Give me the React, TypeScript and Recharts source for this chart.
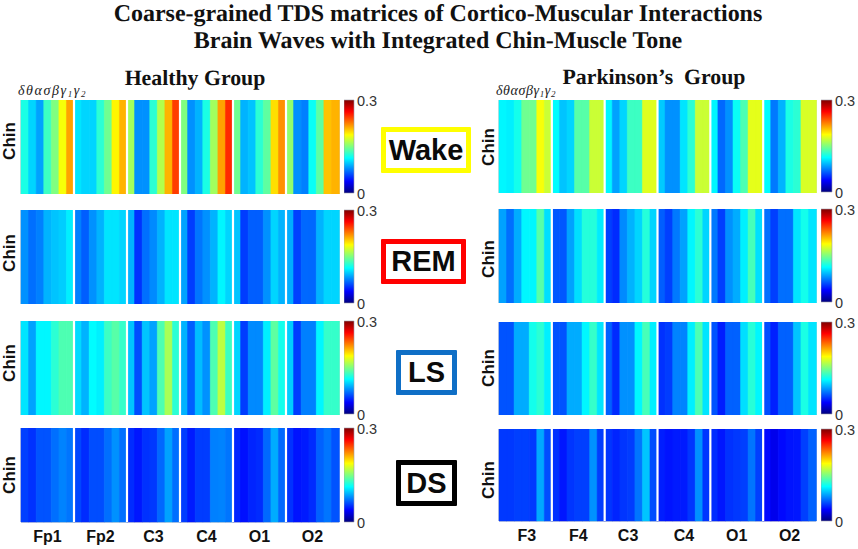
import React from "react";
import { ComposedChart, Bar, Cell, XAxis, YAxis, ReferenceLine, ReferenceArea } from "recharts";

const healthyChannels = ["Fp1", "Fp2", "C3", "C4", "O1", "O2"];
const parkinsonChannels = ["F3", "F4", "C3", "C4", "O1", "O2"];
const healthyTicks = [3.5, 10.5, 17.5, 24.5, 31.5, 38.5];
const parkinsonTicks = [3.7, 10.5, 17.1, 24.5, 31.5, 38.5];

const healthyWake = [
  0.12, 0.1, 0.085, 0.13, 0.15, 0.185, 0.215,
  0.105, 0.1, 0.1, 0.125, 0.145, 0.19, 0.21,
  0.16, 0.08, 0.08, 0.125, 0.165, 0.21, 0.245,
  0.15, 0.08, 0.09, 0.12, 0.16, 0.215, 0.25,
  0.145, 0.09, 0.095, 0.125, 0.14, 0.197, 0.22,
  0.155, 0.08, 0.075, 0.115, 0.14, 0.205, 0.21,
];
const healthyRem = [
  0.08, 0.07, 0.075, 0.09, 0.095, 0.098, 0.108,
  0.075, 0.065, 0.08, 0.09, 0.105, 0.105, 0.1,
  0.09, 0.052, 0.07, 0.078, 0.09, 0.105, 0.105,
  0.085, 0.055, 0.072, 0.08, 0.09, 0.11, 0.1,
  0.095, 0.055, 0.065, 0.065, 0.08, 0.1, 0.09,
  0.088, 0.056, 0.068, 0.068, 0.09, 0.1, 0.1,
];
const healthyLs = [
  0.105, 0.085, 0.11, 0.11, 0.125, 0.135, 0.135,
  0.102, 0.09, 0.112, 0.108, 0.13, 0.138, 0.128,
  0.095, 0.06, 0.095, 0.085, 0.135, 0.162, 0.125,
  0.09, 0.065, 0.093, 0.08, 0.135, 0.168, 0.13,
  0.1, 0.055, 0.078, 0.078, 0.108, 0.14, 0.118,
  0.098, 0.055, 0.075, 0.075, 0.11, 0.128, 0.128,
];
const healthyDs = [
  0.056, 0.052, 0.062, 0.062, 0.07, 0.076, 0.072,
  0.058, 0.05, 0.06, 0.06, 0.07, 0.08, 0.07,
  0.05, 0.044, 0.052, 0.054, 0.068, 0.085, 0.07,
  0.055, 0.045, 0.055, 0.055, 0.075, 0.076, 0.072,
  0.048, 0.042, 0.048, 0.05, 0.068, 0.088, 0.068,
  0.052, 0.043, 0.045, 0.05, 0.066, 0.072, 0.062,
];
const parkinsonWake = [
  0.11, 0.108, 0.118, 0.145, 0.145, 0.185, 0.172,
  0.112, 0.095, 0.1, 0.138, 0.138, 0.172, 0.172,
  0.11, 0.085, 0.1, 0.13, 0.13, 0.178, 0.178,
  0.097, 0.08, 0.08, 0.105, 0.125, 0.172, 0.172,
  0.11, 0.068, 0.08, 0.115, 0.135, 0.18, 0.18,
  0.112, 0.073, 0.09, 0.12, 0.125, 0.176, 0.176,
];
const parkinsonRem = [
  0.085, 0.07, 0.088, 0.11, 0.11, 0.138, 0.103,
  0.063, 0.063, 0.085, 0.103, 0.123, 0.123, 0.107,
  0.056, 0.05, 0.078, 0.09, 0.1, 0.123, 0.1,
  0.065, 0.056, 0.073, 0.085, 0.11, 0.125, 0.1,
  0.073, 0.056, 0.08, 0.088, 0.108, 0.133, 0.103,
  0.07, 0.056, 0.07, 0.07, 0.105, 0.118, 0.105,
];
const parkinsonLs = [
  0.062, 0.062, 0.088, 0.088, 0.118, 0.125, 0.108,
  0.062, 0.062, 0.088, 0.088, 0.11, 0.128, 0.105,
  0.066, 0.05, 0.08, 0.08, 0.11, 0.133, 0.108,
  0.052, 0.055, 0.076, 0.076, 0.108, 0.135, 0.105,
  0.062, 0.046, 0.066, 0.066, 0.103, 0.124, 0.11,
  0.06, 0.047, 0.066, 0.066, 0.095, 0.12, 0.105,
];
const parkinsonDs = [
  0.054, 0.054, 0.056, 0.056, 0.054, 0.087, 0.06,
  0.052, 0.044, 0.053, 0.056, 0.056, 0.08, 0.055,
  0.053, 0.048, 0.053, 0.055, 0.072, 0.095, 0.06,
  0.046, 0.043, 0.045, 0.045, 0.053, 0.08, 0.053,
  0.05, 0.044, 0.052, 0.054, 0.056, 0.072, 0.056,
  0.04, 0.032, 0.04, 0.043, 0.044, 0.056, 0.066,
];

const channelBoundaries = [7, 14, 21, 28, 35];
const jetStops = ["#00007f", "#0000ff", "#007fff", "#00ffff", "#7fff7f", "#ffff00", "#ff7f00", "#ff0000", "#7f0000"];

const SANS = "'Liberation Sans', Arial, sans-serif";
const SERIF = "'Liberation Serif', 'Times New Roman', serif";

function jet(v: number): string {
  const t = Math.max(0, Math.min(1, v / 0.3));
  const part = (c: number) => Math.round(255 * Math.max(0, Math.min(1, 1.5 - Math.abs(4 * t - c))));
  return `rgb(${part(3)},${part(2)},${part(1)})`;
}

function Heatmap({ values, left, top, width, height, labelTicks, labels }: any) {
  const data = values.map((v: number, i: number) => ({ cell: i, tds: v, span: 1 }));
  const hasLabels = !!labels;
  const chartH = height + (hasLabels ? 27 : 1);
  return (
    <div style={{ position: "absolute", left: left - 1, top, width: width + 2 }}>
      <ComposedChart
        width={width + 2}
        height={chartH}
        data={data}
        barCategoryGap={0}
        margin={{ top: 0, right: 1, bottom: 0, left: 1 }}
      >
        <XAxis xAxisId="cells" dataKey="cell" hide height={0} />
        <XAxis
          xAxisId="grid"
          dataKey="cell"
          type="number"
          domain={[0, 42]}
          allowDataOverflow
          hide={!hasLabels}
          ticks={labelTicks}
          interval={0}
          height={hasLabels ? 27 : 0}
          tickFormatter={(_: number, i: number) => (labels ? labels[i] : "")}
          axisLine={false}
          tickLine={false}
          tickSize={0}
          tickMargin={9}
          tick={{ fontFamily: SANS, fontWeight: 700, fontSize: 16, fill: "#111" }}
        />
        <YAxis domain={[0, 1]} hide width={0} />
        <Bar xAxisId="cells" dataKey="span" isAnimationActive={false}>
          {data.map((d: any) => (
            <Cell key={d.cell} fill={jet(d.tds)} stroke={jet(d.tds)} strokeWidth={0.5} />
          ))}
        </Bar>
        {channelBoundaries.map((b) => (
          <ReferenceLine key={b} xAxisId="grid" x={b} stroke="#ffffff" strokeWidth={2.2} />
        ))}
        <ReferenceArea xAxisId="grid" x1={0} x2={42} y1={0} y2={1} fill="none" stroke="#b4b4b4" strokeWidth={1} ifOverflow="visible" />
      </ComposedChart>
    </div>
  );
}

const scaleData = [{ name: "TDS", max: 0.3 }];

function ColorBar({ id, left, top, width, height }: any) {
  return (
    <div style={{ position: "absolute", left, top: top - 12 }}>
      <ComposedChart
        width={width + 26}
        height={height + 24}
        data={scaleData}
        barCategoryGap={0}
        margin={{ top: 12, right: 0, bottom: 12, left: 0 }}
      >
        <defs>
          <linearGradient id={id} x1="0" y1="1" x2="0" y2="0">
            {jetStops.map((c, i) => (
              <stop key={i} offset={`${(i / (jetStops.length - 1)) * 100}%`} stopColor={c} />
            ))}
          </linearGradient>
        </defs>
        <XAxis dataKey="name" hide height={0} />
        <YAxis
          orientation="right"
          domain={[0, 0.3]}
          ticks={[0, 0.3]}
          width={26}
          interval={0}
          axisLine={false}
          tickLine={false}
          tickSize={0}
          tickMargin={3}
          tick={{ fontFamily: SANS, fontSize: 14.5, fill: "#333", dy: 1 }}
        />
        <Bar dataKey="max" fill={`url(#${id})`} stroke="#9a9aa8" strokeWidth={0.6} isAnimationActive={false} />
      </ComposedChart>
    </div>
  );
}

const rowTops = {
  left: [100, 210, 321, 428],
  right: [100, 209, 322, 429],
};
const rowHeights = {
  left: [93, 93, 93, 94],
  right: [92, 93, 92, 92],
};
const chinCenters = {
  left: [141, 253, 363, 475],
  right: [147, 259, 368, 480],
};
const healthyRows = [healthyWake, healthyRem, healthyLs, healthyDs];
const parkinsonRows = [parkinsonWake, parkinsonRem, parkinsonLs, parkinsonDs];

const stages = [
  { label: "Wake", color: "#ffff00", x: 381, y: 127, w: 90, h: 46, fs: 29 },
  { label: "REM", color: "#ff0000", x: 381, y: 239, w: 85, h: 45, fs: 29 },
  { label: "LS", color: "#0f6fc6", x: 396, y: 350, w: 61, h: 45, fs: 29 },
  { label: "DS", color: "#000000", x: 396, y: 460, w: 61, h: 46, fs: 29 },
];

function Abs({ x, y, w, style, children }: any) {
  return (
    <div style={{ position: "absolute", left: x, top: y, width: w, textAlign: "center", whiteSpace: "pre", ...style }}>
      {children}
    </div>
  );
}

function Chin({ cx, cy }: any) {
  return (
    <div
      style={{
        position: "absolute",
        left: cx - 30,
        top: cy - 10,
        width: 60,
        height: 20,
        lineHeight: "20px",
        textAlign: "center",
        transform: "rotate(-90deg)",
        fontFamily: SANS,
        fontWeight: 700,
        fontSize: 17,
        color: "#111",
      }}
    >
      Chin
    </div>
  );
}

function Bands({ x, spacing }: any) {
  const s: React.CSSProperties = { fontSize: 9, fontStyle: "italic", position: "relative", top: 2 };
  return (
    <div
      style={{
        position: "absolute",
        left: x,
        top: 83,
        fontFamily: SERIF,
        fontStyle: "italic",
        fontSize: 14,
        letterSpacing: spacing,
        color: "#222",
        whiteSpace: "pre",
        lineHeight: "16px",
      }}
    >
      δθασβγ<span style={s}>1</span>γ<span style={s}>2</span>
    </div>
  );
}

export default function App() {
  return (
    <div style={{ position: "relative", width: 858, height: 549, background: "#fff", overflow: "hidden" }}>
      <style>{"html,body{margin:0;padding:0;background:#fff}"}</style>
      <Abs
        x={0}
        y={1}
        w={876}
        style={{ fontFamily: SERIF, fontWeight: 700, fontSize: 24, letterSpacing: -0.03, lineHeight: "27px", color: "#111", textRendering: "geometricPrecision" }}
      >
        {"Coarse-grained TDS matrices of Cortico-Muscular Interactions\nBrain Waves with Integrated Chin-Muscle Tone"}
      </Abs>
      <Abs x={0} y={66} w={390} style={{ fontFamily: SERIF, fontWeight: 700, fontSize: 21.8, lineHeight: "24px", color: "#111", textRendering: "geometricPrecision" }}>
        Healthy Group
      </Abs>
      <Abs x={460} y={65} w={388} style={{ fontFamily: SERIF, fontWeight: 700, fontSize: 21.8, lineHeight: "24px", color: "#111", textRendering: "geometricPrecision" }}>
        {"Parkinson\u2019s  Group"}
      </Abs>
      <Bands x={18} spacing={1.6} />
      <Bands x={496} spacing={0.6} />

      {healthyRows.map((vals, i) => (
        <Heatmap
          key={`h${i}`}
          values={vals}
          left={21}
          top={rowTops.left[i]}
          width={318}
          height={rowHeights.left[i]}
          labels={i === 3 ? healthyChannels : null}
          labelTicks={i === 3 ? healthyTicks : []}
        />
      ))}
      {parkinsonRows.map((vals, i) => (
        <Heatmap
          key={`p${i}`}
          values={vals}
          left={499}
          top={rowTops.right[i]}
          width={317}
          height={rowHeights.right[i]}
          labels={i === 3 ? parkinsonChannels : null}
          labelTicks={i === 3 ? parkinsonTicks : []}
        />
      ))}
      {rowTops.left.map((t, i) => (
        <ColorBar key={`cl${i}`} id={`jet-left-${i}`} left={344} top={t} width={10} height={rowHeights.left[i]} />
      ))}
      {rowTops.right.map((t, i) => (
        <ColorBar key={`cr${i}`} id={`jet-right-${i}`} left={821} top={t} width={11} height={rowHeights.right[i]} />
      ))}
      {chinCenters.left.map((cy, i) => (
        <Chin key={`chl${i}`} cx={10} cy={cy} />
      ))}
      {chinCenters.right.map((cy, i) => (
        <Chin key={`chr${i}`} cx={488.5} cy={cy} />
      ))}

      {stages.map((s) => (
        <div
          key={s.label}
          style={{
            position: "absolute",
            left: s.x,
            top: s.y,
            width: s.w,
            height: s.h,
            boxSizing: "border-box",
            border: `5px solid ${s.color}`,
            borderRadius: 1,
            display: "flex",
            alignItems: "center",
            justifyContent: "center",
            fontFamily: SANS,
            fontWeight: 700,
            fontSize: s.fs,
            color: "#0a0a0a",
          }}
        >
          {s.label}
        </div>
      ))}
    </div>
  );
}
